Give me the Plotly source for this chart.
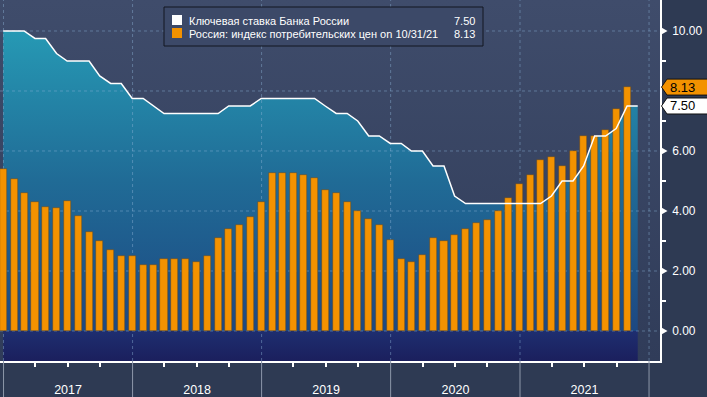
import pandas as pd
import plotly.graph_objects as go

# ---------------- data ----------------
month_ends = list(pd.date_range('2017-01-01', periods=60, freq='MS') - pd.Timedelta(days=1))
rate_dates = month_ends                      # Dec 2016 .. Nov 2021
key_rate = [10.0,
            10.0, 10.0, 9.75, 9.75, 9.25, 9.0, 9.0, 9.0, 8.5, 8.25, 8.25, 7.75,
            7.75, 7.5, 7.25, 7.25, 7.25, 7.25, 7.25, 7.25, 7.5, 7.5, 7.5, 7.75,
            7.75, 7.75, 7.75, 7.75, 7.75, 7.5, 7.25, 7.25, 7.0, 6.5, 6.5, 6.25,
            6.25, 6.0, 6.0, 5.5, 5.5, 4.5, 4.25, 4.25, 4.25, 4.25, 4.25, 4.25,
            4.25, 4.25, 4.5, 5.0, 5.0, 5.5, 6.5, 6.5, 6.75, 7.5, 7.5]
cpi_dates = month_ends[:59]                  # Dec 2016 .. Oct 2021
cpi = [5.4,
       5.05, 4.6, 4.3, 4.15, 4.1, 4.35, 3.85, 3.3, 3.0, 2.7, 2.5, 2.5,
       2.2, 2.2, 2.4, 2.4, 2.4, 2.3, 2.5, 3.1, 3.4, 3.55, 3.8, 4.3,
       5.25, 5.25, 5.25, 5.2, 5.1, 4.7, 4.6, 4.3, 4.0, 3.75, 3.55, 3.05,
       2.4, 2.3, 2.55, 3.1, 3.0, 3.2, 3.4, 3.6, 3.7, 4.0, 4.45, 4.9,
       5.2, 5.7, 5.8, 5.5, 6.0, 6.5, 6.5, 6.7, 7.4, 8.13]
years = ['2017', '2018', '2019', '2020', '2021']
year_starts = ['2017-01-01', '2018-01-01', '2019-01-01', '2020-01-01', '2021-01-01', '2022-01-01']
year_mids = [y + '-07-02 12:00' for y in years]
quarter_ticks = [f'{y}-{m}-01' for y in years for m in ('04', '07', '10')]
y_major = [0, 2, 4, 6, 8, 10]
y_labels = ['0.00', '2.00', '4.00', '6.00', '', '10.00']
y_labeled = [0, 2, 4, 6, 10]
y_minor = [1, 3, 5, 7, 9]
rate_name = 'Ключевая ставка Банка России'
cpi_name = 'Россия: индекс потребительских цен on 10/31/21'
last_rate, last_cpi = key_rate[-1], cpi[-1]

# ---------------- style / layout constants ----------------
X_RANGE = ['2016-12-22', '2022-02-01']
Y_RANGE = [-1, 11.033]
W, H = 707, 397
ML, MR, MT, MB = 0, 47, 0, 36
PW, PH = W - ML - MR, H - MT - MB
ORANGE = '#f39200'
FONT = 'Liberation Sans, Arial, sans-serif'
GRID = 'rgba(140,180,215,0.45)'


def px_x(p):
    return (p - ML) / PW


def px_y(p):
    return 1 - (p - MT) / PH


UNIT_PX = PH / (Y_RANGE[1] - Y_RANGE[0])

fig = go.Figure()

# plot background gradient
fig.add_trace(go.Scatter(x=X_RANGE, y=[Y_RANGE[0]] * 2, mode='lines', line=dict(width=0),
                         hoverinfo='skip', showlegend=False))
fig.add_trace(go.Scatter(x=X_RANGE, y=[Y_RANGE[1]] * 2, mode='lines', line=dict(width=0),
                         fill='tonexty',
                         fillgradient=dict(type='vertical', colorscale=[[0, '#303c59'], [1, '#3f4c6b']],
                                           start=Y_RANGE[0], stop=Y_RANGE[1]),
                         hoverinfo='skip', showlegend=False))
# navy band below zero
fig.add_trace(go.Scatter(x=rate_dates, y=[Y_RANGE[0]] * len(rate_dates), mode='lines', line=dict(width=0),
                         fill='tozeroy',
                         fillgradient=dict(type='vertical', colorscale=[[0, '#1b1f5d'], [1, '#1e2e70']],
                                           start=Y_RANGE[0], stop=0),
                         hoverinfo='skip', showlegend=False))
# key-rate area
fig.add_trace(go.Scatter(x=rate_dates, y=key_rate, mode='lines', line=dict(width=0),
                         fill='tozeroy',
                         fillgradient=dict(type='vertical',
                                           colorscale=[[0, '#1d4882'], [0.5, '#206b96'], [1, '#2699b4']],
                                           start=0, stop=10),
                         hoverinfo='skip', showlegend=False))
# grid lines (drawn above area, below bars)
gx, gy = [], []
for v in y_major:
    gx += [X_RANGE[0], X_RANGE[1], None]
    gy += [v, v, None]
for d in year_starts:
    gx += [d, d, None]
    gy += [Y_RANGE[0], Y_RANGE[1], None]
fig.add_trace(go.Scatter(x=gx, y=gy, mode='lines', line=dict(color=GRID, width=1, dash='3px,3px'),
                         hoverinfo='skip', showlegend=False))

# bars and line on overlaid axes (drawn above)
fig.add_trace(go.Bar(x=cpi_dates, y=cpi, name=cpi_name, marker=dict(color=ORANGE,
                     line=dict(color='rgba(90,70,40,0.8)', width=0.6)),
                     width=20 * 86400000, xaxis='x2', yaxis='y2', showlegend=False))
fig.add_trace(go.Scatter(x=rate_dates, y=key_rate, name=rate_name, mode='lines',
                         line=dict(color='white', width=1.5), xaxis='x2', yaxis='y2', showlegend=False))

shapes = []
# year separators in the bottom band
for d in year_starts:
    shapes.append(dict(type='line', xref='x', yref='paper', x0=d, x1=d, y0=0, y1=-MB / PH,
                       line=dict(color='#8d97aa', width=1)))
# right-axis tick triangles
th = 4 / UNIT_PX
for v in y_labeled:
    shapes.append(dict(type='path', xref='paper', yref='y',
                       path=f'M {px_x(660.5)},{v - th} L {px_x(667.5)},{v} L {px_x(660.5)},{v + th} Z',
                       fillcolor='white', line=dict(width=0)))
# legend box
shapes.append(dict(type='rect', xref='paper', yref='paper', x0=px_x(164), x1=px_x(483),
                   y0=px_y(46), y1=px_y(7), fillcolor='#3c4968', line=dict(color='#121620', width=1),
                   layer='above'))
shapes.append(dict(type='rect', xref='paper', yref='paper', x0=px_x(172), x1=px_x(182),
                   y0=px_y(25), y1=px_y(15), fillcolor='white', line=dict(width=0), layer='above'))
shapes.append(dict(type='rect', xref='paper', yref='paper', x0=px_x(172), x1=px_x(182),
                   y0=px_y(38), y1=px_y(28), fillcolor=ORANGE, line=dict(width=0), layer='above'))
# value badges
bh = 8 / UNIT_PX
for val, col in ((last_cpi, ORANGE), (last_rate, 'white')):
    shapes.append(dict(type='path', xref='paper', yref='y',
                       path=(f'M {px_x(661.5)},{val} L {px_x(667)},{val + bh} L {px_x(708)},{val + bh} '
                             f'L {px_x(708)},{val - bh} L {px_x(667)},{val - bh} Z'),
                       fillcolor=col, line=dict(color='#111', width=1), layer='above'))

annotations = [
    dict(xref='paper', yref='paper', x=px_x(187), y=px_y(20.5), text=rate_name, showarrow=False,
         xanchor='left', yanchor='middle', font=dict(family=FONT, size=11, color='white')),
    dict(xref='paper', yref='paper', x=px_x(187), y=px_y(33.5), text=cpi_name, showarrow=False,
         xanchor='left', yanchor='middle', font=dict(family=FONT, size=11, color='white')),
    dict(xref='paper', yref='paper', x=px_x(477), y=px_y(20.5), text=f'{last_rate:.2f}', showarrow=False,
         xanchor='right', yanchor='middle', font=dict(family=FONT, size=11, color='white')),
    dict(xref='paper', yref='paper', x=px_x(477), y=px_y(33.5), text=f'{last_cpi:.2f}', showarrow=False,
         xanchor='right', yanchor='middle', font=dict(family=FONT, size=11, color='white')),
    dict(xref='paper', yref='y', x=px_x(668), y=last_cpi, text=f'{last_cpi:.2f}', showarrow=False,
         xanchor='left', yanchor='middle', font=dict(family=FONT, size=13, color='black')),
    dict(xref='paper', yref='y', x=px_x(668), y=last_rate, text=f'{last_rate:.2f}', showarrow=False,
         xanchor='left', yanchor='middle', font=dict(family=FONT, size=13, color='black')),
]

fig.update_layout(
    width=W, height=H, margin=dict(l=ML, r=MR, t=MT, b=MB),
    paper_bgcolor='#2e3a53', plot_bgcolor='#39465f',
    showlegend=False, bargap=0,
    font=dict(family=FONT, size=12, color='white'),
    xaxis=dict(type='date', range=X_RANGE, showgrid=False, zeroline=False,
               showline=True, linecolor='white', linewidth=1.5,
               tickmode='array', tickvals=year_mids, ticktext=years,
               ticks='outside', ticklen=16, tickcolor='rgba(0,0,0,0)',
               tickfont=dict(family=FONT, size=12.5, color='white'),
               minor=dict(tickmode='array', tickvals=quarter_ticks, ticks='outside', ticklen=4,
                          tickcolor='white', tickwidth=1.5, showgrid=False)),
    yaxis=dict(range=Y_RANGE, side='right', showgrid=False, zeroline=False,
               showline=True, linecolor='white', linewidth=1.5,
               tickmode='array', tickvals=y_major, ticktext=y_labels,
               ticks='outside', ticklen=8, tickcolor='rgba(0,0,0,0)',
               tickfont=dict(family=FONT, size=12, color='white'),
               minor=dict(tickmode='array', tickvals=y_minor, ticks='outside', ticklen=4,
                          tickcolor='white', tickwidth=1.5, showgrid=False)),
    xaxis2=dict(type='date', range=X_RANGE, overlaying='x', visible=False),
    yaxis2=dict(range=Y_RANGE, overlaying='y', visible=False),
    shapes=shapes, annotations=annotations,
)

fig.write_html('out.html',
               config={'displayModeBar': False},
               post_script="document.body.style.margin='0';document.body.style.padding='0';"
                           "document.body.style.overflow='hidden';"
                           "document.body.style.background='#2e3a53';")
